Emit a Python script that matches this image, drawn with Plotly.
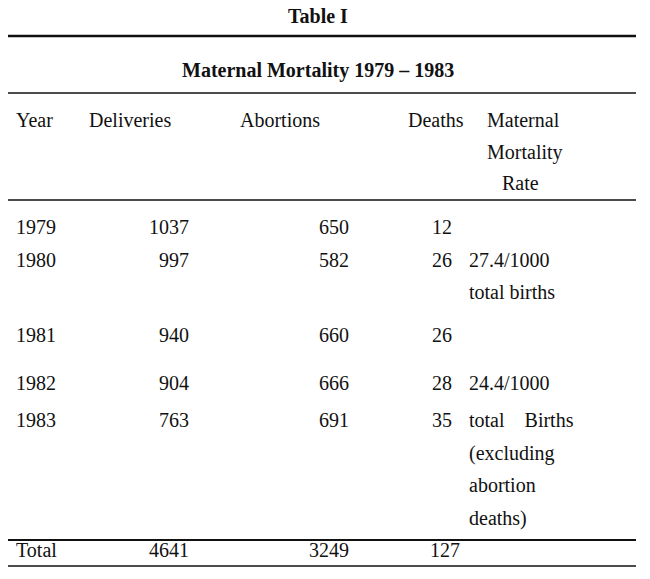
import plotly.graph_objects as go

# table data
years = ["1979", "1980", "1981", "1982", "1983"]
deliveries = [1037, 997, 940, 904, 763]
abortions = [650, 582, 660, 666, 691]
deaths = [12, 26, 26, 28, 35]
row_y = [227, 260, 335, 383, 420]
rate_lines = [("27.4/1000", 260), ("total births", 292), ("24.4/1000", 383),
              ("total    Births", 420), ("(excluding", 453), ("abortion", 485), ("deaths)", 518)]
header_cols = ["Year", "Deliveries", "Abortions", "Deaths"]
totals = ["Total", 4641, 3249, 127]

FONT = "Liberation Serif, DejaVu Serif, serif"
fig = go.Figure()
ann = []

def txt(x, y, s, anchor="left", size=20, bold=False):
    ann.append(dict(x=x, y=y, text=f"<b>{s}</b>" if bold else str(s), xanchor=anchor,
                    yanchor="middle", showarrow=False, font=dict(family=FONT, size=size, color="#111")))

txt(318, 16, "Table I", "center", 20, True)
txt(318, 70, "Maternal Mortality 1979 – 1983", "center", 20, True)

txt(14, 120, header_cols[0])
txt(87, 120, header_cols[1])
txt(238, 120, header_cols[2])
txt(466, 120, header_cols[3], "right")
for s, y in [("Maternal", 120), ("Mortality", 152), ("Rate", 183)]:
    txt(485 if s != "Rate" else 500, y, s)

for yr, d, a, de, y in zip(years, deliveries, abortions, deaths, row_y):
    txt(14, y, yr)
    txt(191, y, d, "right")
    txt(351, y, a, "right")
    txt(454, y, de, "right")
for s, y in rate_lines:
    txt(467, y, s)

txt(14, 550, totals[0])
txt(191, 550, totals[1], "right")
txt(351, 550, totals[2], "right")
txt(462, 550, totals[3], "right")

shapes = []
for y, x0, w in [(36, 0, 2.5), (93, 5, 1.5), (200, 5, 1.5), (540, 0, 2), (566, 0, 1.5)]:
    shapes.append(dict(type="line", x0=x0, x1=636, y0=y, y1=y, line=dict(color="#111", width=w)))

# page body adds an 8px margin, so shift the axis ranges to compensate
fig.update_layout(
    width=650, height=579, margin=dict(l=0, r=0, t=0, b=0),
    paper_bgcolor="white", plot_bgcolor="white",
    xaxis=dict(range=[8, 658], visible=False, fixedrange=True),
    yaxis=dict(range=[587, 8], visible=False, fixedrange=True),
    annotations=ann, shapes=shapes, showlegend=False,
)
fig.write_html("out.html")
